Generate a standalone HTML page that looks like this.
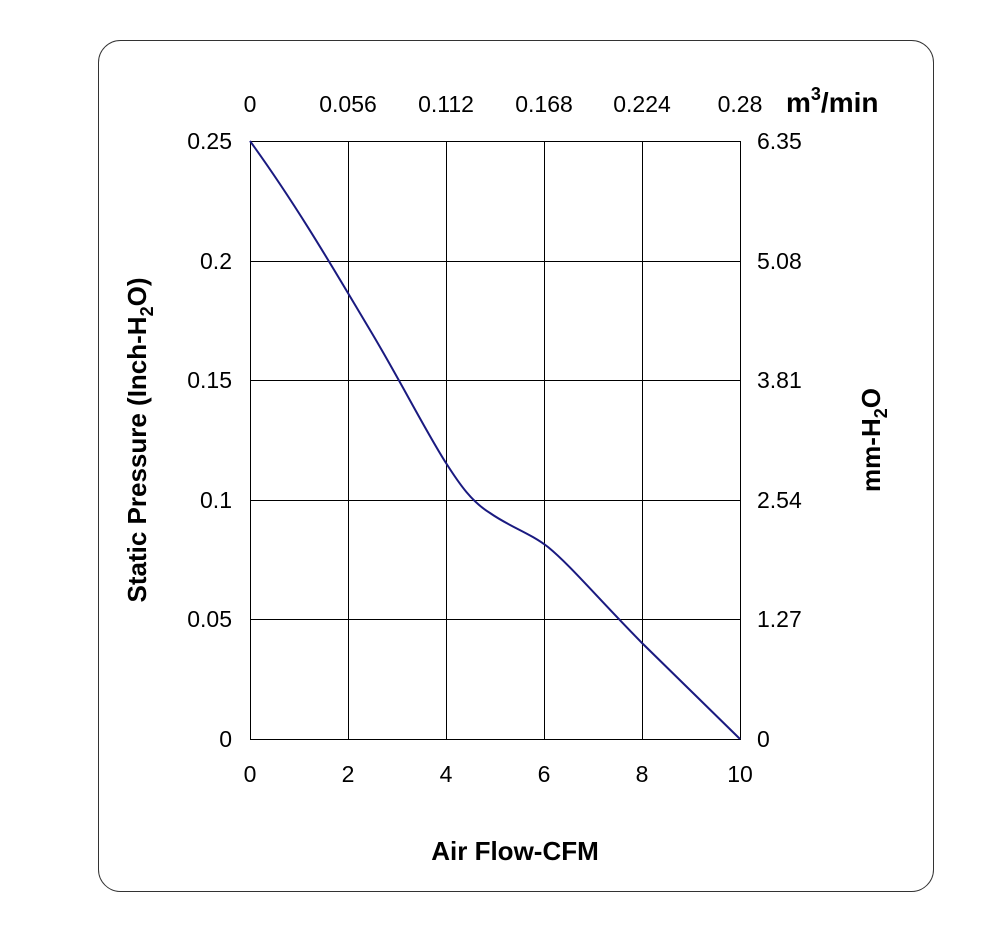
<!DOCTYPE html>
<html><head><style>body{margin:0;background:#fff}</style></head><body>
<svg width="1000" height="922" xmlns="http://www.w3.org/2000/svg" font-family="Liberation Sans, sans-serif">
<rect x="98.5" y="40.5" width="835" height="851" rx="22" fill="#fff" stroke="#333" stroke-width="1"/>
<g stroke="#000" stroke-width="1" fill="none">
<rect x="250.5" y="141.5" width="490" height="598"/>
<line x1="348.5" y1="141" x2="348.5" y2="739"/>
<line x1="446.5" y1="141" x2="446.5" y2="739"/>
<line x1="544.5" y1="141" x2="544.5" y2="739"/>
<line x1="642.5" y1="141" x2="642.5" y2="739"/>
<line x1="250" y1="261.5" x2="740" y2="261.5"/>
<line x1="250" y1="380.5" x2="740" y2="380.5"/>
<line x1="250" y1="500.5" x2="740" y2="500.5"/>
<line x1="250" y1="619.5" x2="740" y2="619.5"/>
</g>
<path d="M250,141 C300,210 340,280 370,330 C400,380 425,430 446,463 C460,485 472,502 490,513 C510,527 530,533 548,547 C570,565 595,595 642,643 L740,739" fill="none" stroke="#1a1a80" stroke-width="2"/>
<g font-size="23" fill="#000">
<g text-anchor="end">
<text x="232" y="149">0.25</text><text x="232" y="269">0.2</text><text x="232" y="388">0.15</text>
<text x="232" y="508">0.1</text><text x="232" y="627">0.05</text><text x="232" y="747">0</text>
</g>
<g text-anchor="start">
<text x="757" y="149">6.35</text><text x="757" y="269">5.08</text><text x="757" y="388">3.81</text>
<text x="757" y="508">2.54</text><text x="757" y="627">1.27</text><text x="757" y="747">0</text>
</g>
<g text-anchor="middle">
<text x="250" y="782">0</text><text x="348" y="782">2</text><text x="446" y="782">4</text>
<text x="544" y="782">6</text><text x="642" y="782">8</text><text x="740" y="782">10</text>
<text x="250" y="112">0</text><text x="348" y="112">0.056</text><text x="446" y="112">0.112</text>
<text x="544" y="112">0.168</text><text x="642" y="112">0.224</text><text x="740" y="112">0.28</text>
</g>
</g>
<g font-size="28" font-weight="bold" fill="#000">
<text x="786" y="112">m<tspan dy="-12" font-size="18">3</tspan><tspan dy="12">/min</tspan></text>
<text x="515" y="860" text-anchor="middle" font-size="26">Air Flow-CFM</text>
<text transform="translate(146,440) rotate(-90)" text-anchor="middle" font-size="26">Static Pressure (Inch-H<tspan dy="7" font-size="18">2</tspan><tspan dy="-7">O)</tspan></text>
<text transform="translate(880,440) rotate(-90)" text-anchor="middle" font-size="26">mm-H<tspan dy="7" font-size="18">2</tspan><tspan dy="-7">O</tspan></text>
</g>
</svg>
</body></html>
